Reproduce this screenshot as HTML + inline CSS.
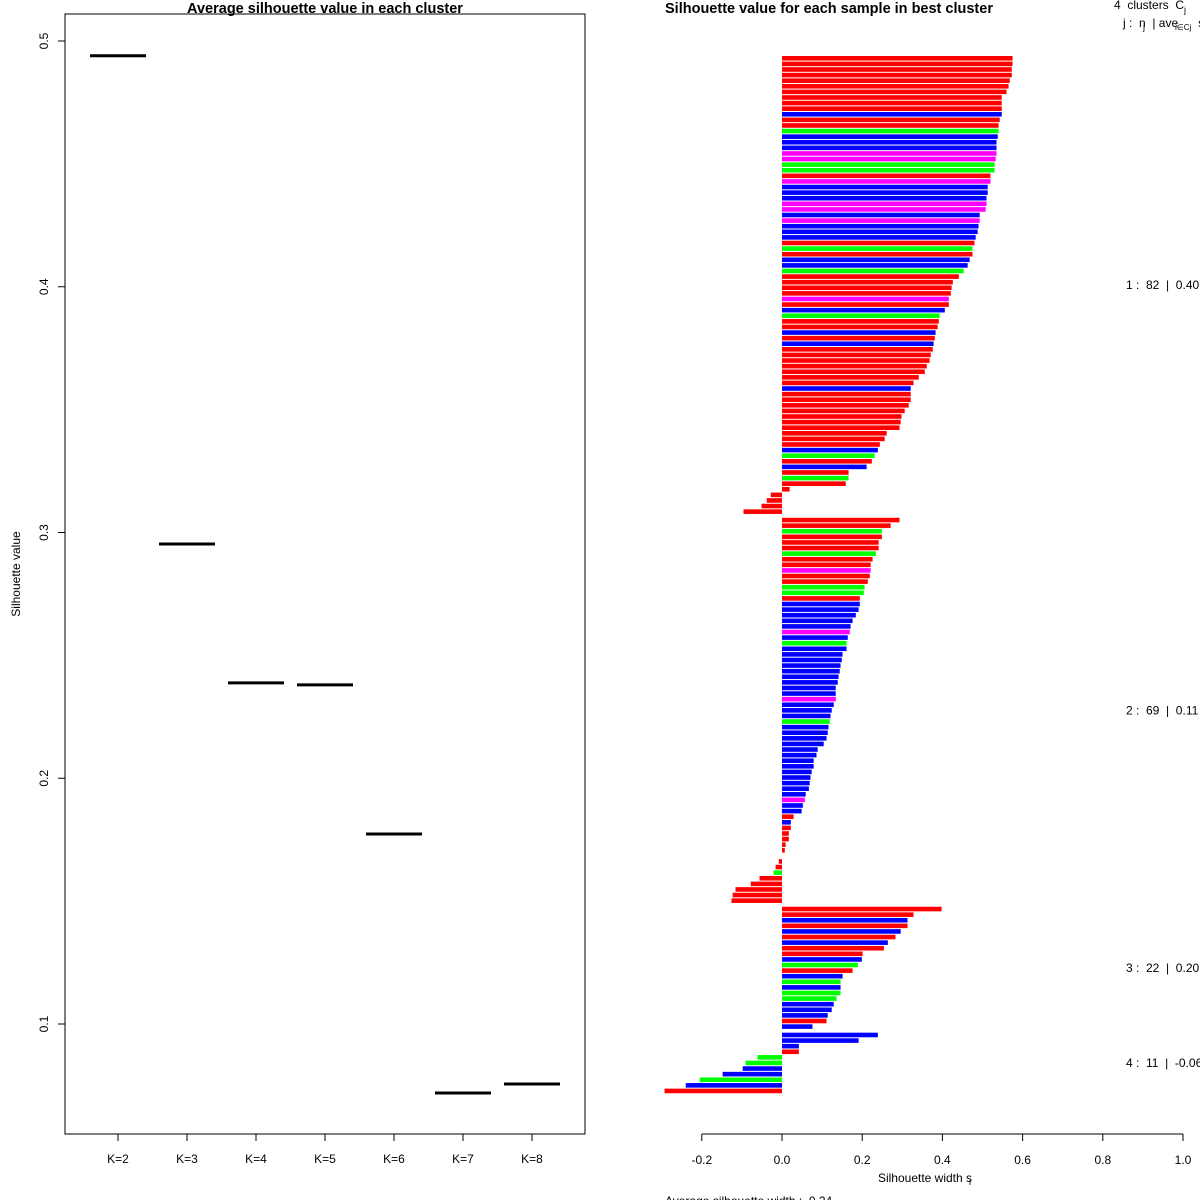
<!DOCTYPE html>
<html><head><meta charset="utf-8"><style>
html,body{margin:0;padding:0;background:#fff;}
svg{display:block;font-family:"Liberation Sans",Arial,sans-serif;}
svg text{white-space:pre;}
</style></head><body>
<svg id="chart" width="1200" height="1200" viewBox="0 0 1200 1200">
<g id="left"></g>
<g id="right"></g>
</svg>
<script>
// Left panel data
const kLabels = ["K=2","K=3","K=4","K=5","K=6","K=7","K=8"];
const kAvg = [0.494,0.2953,0.2388,0.238,0.1773,0.0719,0.0756];
const leftTicks = [0.1,0.2,0.3,0.4,0.5];

// Right panel data (per cluster: values and colours)
const c1Vals = [.575,.575,.573,.573,.568,.565,.560,.548,.548,.548,.548,.543,.540,.540,.538,.535,.535,.535,.533,.530,.530,.520,.520,.513,.513,.510,.510,.508,.493,.493,.490,.488,.483,.480,.475,.475,.468,.463,.453,.441,
.426,.423,.421,.416,.416,.406,.393,.391,.388,.383,.381,.378,.376,.371,.368,.361,.356,.341,.328,.321,.321,.321,.316,.306,.298,.296,.293,.261,.256,.244,.239,.231,.224,.211,.166,.166,.159,.019,-.028,-.038,-.051,-.096];
const c1Cols = "rrrrrrrrrrbrrgbbbmmggrmbbbmmbmbbbrgrbbgr"+"rrrmrbgrrbrbrrrrrrrbrrrrrrrrrrbgrbrgrrrrrr";
const c2Vals = [.293,.271,.249,.249,.241,.241,.234,.226,.221,.221,.219,.214,.206,.204,.194,.194,.191,.184,.176,.171,.169,.164,.161,.161,.151,.149,.146,.144,.141,.139,.134,.134,.134,.129,.124,.121,
.119,.116,.114,.111,.104,.089,.086,.079,.079,.074,.071,.069,.067,.059,.057,.052,.049,.029,.022,.022,.017,.017,.009,.007,
0,-.008,-.016,-.021,-.056,-.078,-.116,-.123,-.126];
const c2Cols = "rrgrrrgrrmrrggrbbbbbmbgbbbbbbbbbmbbb"+"gbbbbbbbbbbbbbmbbrbrrrrr"+"r"+"rrgrrrrr";
const c3Vals = [.398,.328,.313,.313,.296,.283,.264,.254,.201,.199,.189,.176,.151,.146,.146,.146,.136,.129,.124,.114,.111,.076];
const c3Cols = "rrbrbrbrrbgrbgbggbbbrb";
const c4Vals = [.239,.191,.042,.042,-.061,-.091,-.098,-.148,-.205,-.240,-.293];
const c4Cols = "bbbrggbbgbr";
const clusterLabels = ["1 :  82  |  0.40","2 :  69  |  0.11","3 :  22  |  0.20","4 :  11  |  -0.06"];
const xTicks = [-0.2,0,0.2,0.4,0.6,0.8,1.0];

const NS="http://www.w3.org/2000/svg";
function mk(parent,tag,attrs,text){const e=document.createElementNS(NS,tag);for(const k in attrs)e.setAttribute(k,attrs[k]);if(text!==undefined)e.textContent=text;parent.appendChild(e);return e;}

// ---------- Left panel ----------
const L=document.getElementById('left');
const ly=v=>1024-(v-0.1)*2457.5;
const lx=i=>118+i*69;
let e;
e=mk(L,'rect',{x:65,y:14,width:520,height:1120,fill:'none',stroke:'#000','stroke-width':1});


e=mk(L,'text',{x:325,y:13,'text-anchor':'middle','font-size':14.5,'font-weight':'bold'},'Average silhouette value in each cluster');


e=mk(L,'text',{x:20,y:574,'text-anchor':'middle','font-size':12,transform:'rotate(-90 20 574)'},'Silhouette value');


leftTicks.forEach(t=>{
  const y=ly(t);
  e=mk(L,'line',{x1:58,x2:65,y1:y,y2:y,stroke:'#000'});
  
  
  e=mk(L,'text',{x:48,y:y,'text-anchor':'middle','font-size':12,transform:`rotate(-90 48 ${y})`},t.toFixed(1));
  
  
});
kLabels.forEach((k,i)=>{
  const x=lx(i);
  e=mk(L,'line',{x1:x,x2:x,y1:1134,y2:1141,stroke:'#000'});
  
  
  e=mk(L,'text',{x:x,y:1163,'text-anchor':'middle','font-size':12},k);
  
  
  e=mk(L,'line',{x1:x-28,x2:x+28,y1:ly(kAvg[i]),y2:ly(kAvg[i]),stroke:'#000','stroke-width':3});
  
  
});

// ---------- Right panel ----------
const R=document.getElementById('right');
const colMap={r:'#ff0000',b:'#0000ff',g:'#00ff00',m:'#ff00ff'};
const rx=v=>782+v*401;
const step=5.597;
e=mk(R,'text',{x:665,y:13,'font-size':14.5,'font-weight':'bold'},'Silhouette value for each sample in best cluster');


e=mk(R,'text',{x:1114,y:9,'font-size':12},'4  clusters  C');


mk(R,'text',{x:1184,y:13,'font-size':9},'j');
e=mk(R,'text',{x:1123,y:27,'font-size':12},'j :  n  | ave      s');


mk(R,'text',{x:1143,y:30,'font-size':9},'j');
mk(R,'text',{x:1175,y:30,'font-size':8},'i∈Cj');
const clusters=[[c1Vals,c1Cols],[c2Vals,c2Cols],[c3Vals,c3Cols],[c4Vals,c4Cols]];
let pos=0;
clusters.forEach((cl,ci)=>{
  if(ci>0)pos+=0.5;
  const startPos=pos;
  cl[0].forEach((v,i)=>{
    const yc=58.3+pos*step;
    const x0=Math.min(rx(0),rx(v)), w=Math.abs(rx(v)-rx(0));
    e=mk(R,'rect',{x:x0,y:yc-2.3,width:w,height:4.6,fill:colMap[cl[1][i]]});
    
    
    pos+=1;
  });
  const midY=58.3+((startPos+pos-1)/2)*step;
  e=mk(R,'text',{x:1126,y:midY+4,'font-size':12},clusterLabels[ci]);
  
  
});
e=mk(R,'line',{x1:rx(-0.2),x2:rx(1),y1:1134,y2:1134,stroke:'#000'});


xTicks.forEach(t=>{
  const x=rx(t);
  e=mk(R,'line',{x1:x,x2:x,y1:1134,y2:1141,stroke:'#000'});
  
  
  e=mk(R,'text',{x:x,y:1164,'text-anchor':'middle','font-size':12},t.toFixed(1));
  
  
});
e=mk(R,'text',{x:925,y:1182,'text-anchor':'middle','font-size':12},'Silhouette width s');


mk(R,'text',{x:969,y:1185,'font-size':9},'i');
e=mk(R,'text',{x:665,y:1205,'font-size':12},'Average silhouette width :  0.24');


</script>
</body></html>
